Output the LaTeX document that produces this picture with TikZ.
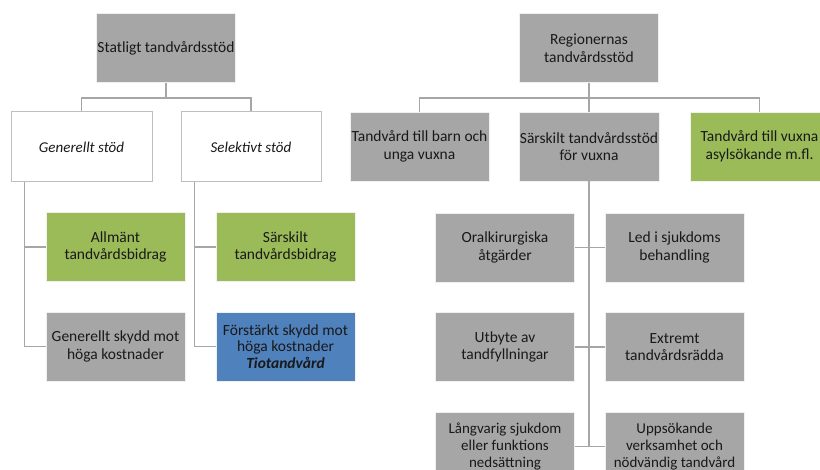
\documentclass[tikz,border=0pt]{standalone}
\usepackage{fontspec}
\setmainfont{Carlito}
\usetikzlibrary{calc}
\definecolor{boxgrey}{HTML}{A6A6A6}
\definecolor{boxgreen}{HTML}{9BBB59}
\definecolor{boxblue}{HTML}{4F81BD}
\definecolor{linegrey}{HTML}{A6A6A6}
\definecolor{edgegrey}{HTML}{BFBFBF}
\tikzset{
  box/.style={draw=white!88!gray, line width=0.8pt, minimum width=139pt, minimum height=69pt,
    inner sep=1pt, align=center, font=\fontsize{15.5pt}{17.5pt}\selectfont, text=black!90},
  tight/.style={font=\fontsize{15.5pt}{16.5pt}\selectfont},
  bottomrow/.style={font=\fontsize{15pt}{17pt}\selectfont},
  greybox/.style={box, fill=boxgrey},
  greenbox/.style={box, fill=boxgreen},
  bluebox/.style={box, fill=boxblue},
  whitebox/.style={box, fill=white, draw=edgegrey, line width=1pt, font=\fontsize{15pt}{17.5pt}\selectfont\itshape},
  conn/.style={draw=linegrey, line width=1.5pt},
}
\begin{document}
\begin{tikzpicture}[x=1pt,y=-1pt]
\useasboundingbox (0,0) rectangle (820,470);
% left tree
\node[greybox] (stat) at (166,48) {Statligt tandvårdsstöd};
\node[whitebox, minimum width=141pt, minimum height=70pt] (gen) at (81.5,147) {Generellt stöd};
\node[whitebox, minimum width=140pt, minimum height=70pt] (sel) at (251,147) {Selektivt stöd};
\node[greenbox] (allm) at (115.5,247) {Allmänt\\tandvårdsbidrag};
\node[greybox] (gskydd) at (115.5,346.5) {Generellt skydd mot\\höga kostnader};
\node[greenbox] (sarb) at (285.5,247) {Särskilt\\tandvårdsbidrag};
\node[bluebox, tight] (forst) at (285.5,346.5) {Förstärkt skydd mot\\höga kostnader\\\textbf{\textit{Tiotandvård}}};
% right tree
\node[greybox] (reg) at (589,48) {Regionernas\\tandvårdsstöd};
\node[greybox] (barn) at (419.5,146.5) {Tandvård till barn och\\unga vuxna};
\node[greybox] (sar) at (589,146.5) {Särskilt tandvårdsstöd\\för vuxna};
\node[greenbox] (asyl) at (759.5,146.5) {Tandvård till vuxna\\asylsökande m.fl.};
\node[greybox] (l1) at (505,247.5) {Oralkirurgiska\\åtgärder};
\node[greybox] (r1) at (674.5,247.5) {Led i sjukdoms\\behandling};
\node[greybox] (l2) at (505,347) {Utbyte av\\tandfyllningar};
\node[greybox] (r2) at (674.5,347) {Extremt\\tandvårdsrädda};
\node[greybox, bottomrow] (l3) at (505,446.5) {Långvarig sjukdom\\eller funktions\\nedsättning};
\node[greybox, bottomrow] (r3) at (674.5,446.5) {Uppsökande\\verksamhet och\\nödvändig tandvård};
% connectors left
\coordinate (sbus) at ($(stat.south)+(0,15)$);
\draw[conn] (stat.south) -- (sbus);
\draw[conn] (gen.north) |- (sbus) -| (sel.north);
\coordinate (gtrunk) at ($(gen.south west)+(14,0)$);
\draw[conn] (gtrunk) |- (allm.west);
\draw[conn] (gtrunk) |- (gskydd.west);
\coordinate (strunk) at ($(sel.south west)+(14,0)$);
\draw[conn] (strunk) |- (sarb.west);
\draw[conn] (strunk) |- (forst.west);
% connectors right
\coordinate (rbus) at ($(reg.south)+(0,15)$);
\draw[conn] (reg.south) -- (sar.north);
\draw[conn] (barn.north) |- (rbus) -| (asyl.north);
\draw[conn] (sar.south) -- (sar.south |- l3.east);
\draw[conn] (l1.east) -- (r1.west);
\draw[conn] (l2.east) -- (r2.west);
\draw[conn] (l3.east) -- (r3.west);
\end{tikzpicture}
\end{document}
